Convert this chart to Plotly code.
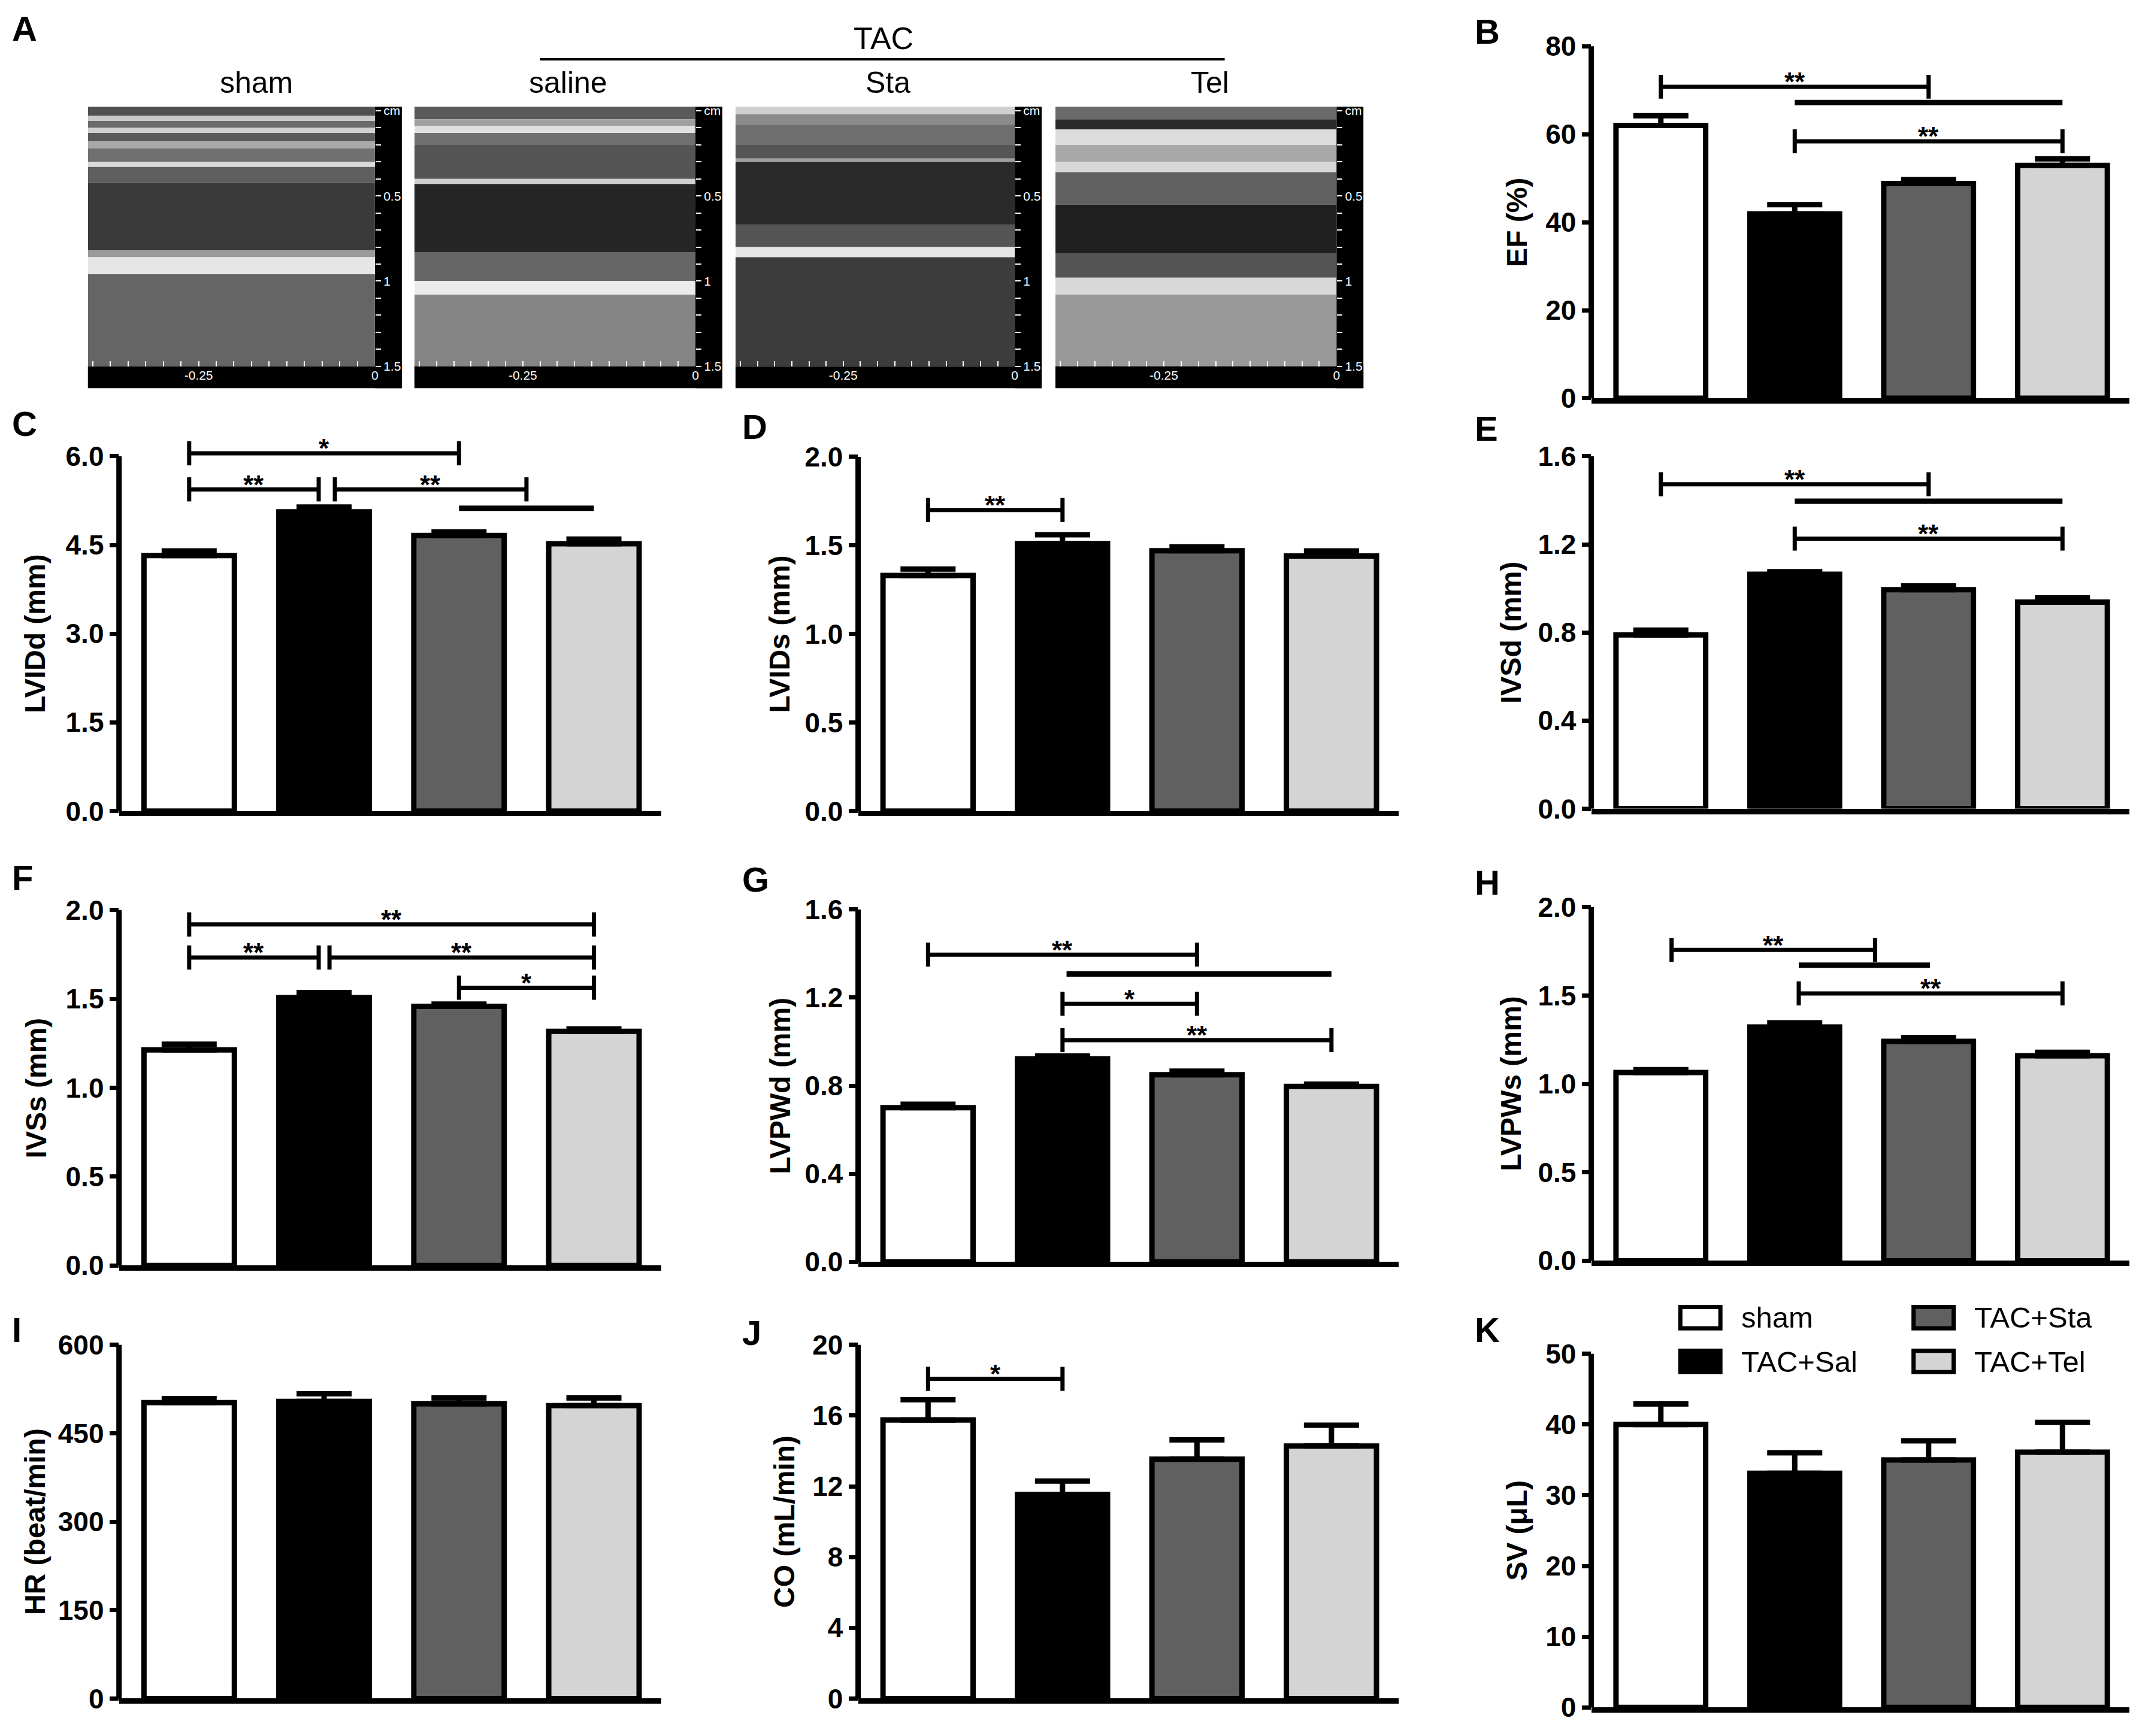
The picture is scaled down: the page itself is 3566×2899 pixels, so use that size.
import plotly.graph_objects as go

W, H = 3566, 2899
FONT = 'Liberation Sans, Arial, Helvetica, sans-serif'

groups = ['sham', 'TAC+Sal', 'TAC+Sta', 'TAC+Tel']
bar_colors = ['#ffffff', '#000000', '#606060', '#d4d4d4']

# mean and SEM per group
ef_mean = [62.0, 41.9, 48.8, 52.9]
ef_sem = [2.2, 2.1, 0.9, 1.5]
lvidd_mean = [4.32, 5.06, 4.66, 4.52]
lvidd_sem = [0.08, 0.08, 0.06, 0.08]
lvids_mean = [1.33, 1.51, 1.47, 1.44]
lvids_sem = [0.037, 0.05, 0.022, 0.029]
ivsd_mean = [0.789, 1.064, 0.994, 0.938]
ivsd_sem = [0.022, 0.012, 0.017, 0.019]
ivss_mean = [1.213, 1.507, 1.458, 1.318]
ivss_sem = [0.032, 0.029, 0.013, 0.013]
lvpwd_mean = [0.700, 0.922, 0.850, 0.797]
lvpwd_sem = [0.016, 0.013, 0.016, 0.010]
lvpws_mean = [1.065, 1.322, 1.241, 1.159]
lvpws_sem = [0.016, 0.024, 0.022, 0.020]
hr_mean = [502, 504, 500, 497]
hr_sem = [7, 13, 10, 13]
co_mean = [15.75, 11.55, 13.54, 14.28]
co_sem = [1.15, 0.75, 1.09, 1.18]
sv_mean = [40.0, 33.1, 35.0, 36.1]
sv_sem = [2.9, 2.9, 2.7, 4.2]

# y tick values
ef_ticks = [0, 20, 40, 60, 80]
lvidd_ticks = [0, 1.5, 3.0, 4.5, 6.0]
lvids_ticks = [0, 0.5, 1.0, 1.5, 2.0]
ivsd_ticks = [0, 0.4, 0.8, 1.2, 1.6]
ivss_ticks = [0, 0.5, 1.0, 1.5, 2.0]
lvpwd_ticks = [0, 0.4, 0.8, 1.2, 1.6]
lvpws_ticks = [0, 0.5, 1.0, 1.5, 2.0]
hr_ticks = [0, 150, 300, 450, 600]
co_ticks = [0, 4, 8, 12, 16, 20]
sv_ticks = [0, 10, 20, 30, 40, 50]

# significance brackets: (from group, to group, height, label); '' = plain group line
ef_sig = [(0, 2, 70.8, '**'), (1, 3, 67.2, ''), (1, 3, 58.4, '**')]
lvidd_sig = [(0, 2, 6.05, '*'), (0, 0.96, 5.44, '**'), (1.08, 2.5, 5.44, '**'), (2, 3, 5.12, '')]
lvids_sig = [(0, 1, 1.70, '**')]
ivsd_sig = [(0, 2, 1.473, '**'), (1, 3, 1.396, ''), (1, 3, 1.226, '**')]
ivss_sig = [(0, 3, 1.919, '**'), (0, 0.96, 1.733, '**'), (1.04, 3, 1.733, '**'), (2, 3, 1.563, '*')]
lvpwd_sig = [(0, 2, 1.395, '**'), (1.03, 3, 1.307, ''), (1, 2, 1.172, '*'), (1, 3, 1.007, '**')]
lvpws_sig = [(0.08, 1.6, 1.758, '**'), (1.03, 2.01, 1.672, ''), (1.03, 3, 1.512, '**')]
co_sig = [(0, 1, 18.08, '*')]

# echo M-mode panels: grey bands by depth (cm)
echo_names = ['sham', 'saline', 'Sta', 'Tel']
echo_bands = [
    [(-0.03, 0.03, '#505050'), (0.03, 0.06, '#c8c8c8'), (0.06, 0.10, '#6a6a6a'), (0.10, 0.13, '#d0d0d0'),
     (0.13, 0.18, '#5a5a5a'), (0.18, 0.22, '#a8a8a8'), (0.22, 0.30, '#707070'), (0.30, 0.33, '#dadada'),
     (0.33, 0.42, '#5e5e5e'), (0.42, 0.82, '#3a3a3a'), (0.82, 0.86, '#9a9a9a'), (0.86, 0.96, '#e6e6e6'),
     (0.96, 1.5, '#656565')],
    [(-0.03, 0.05, '#5a5a5a'), (0.05, 0.09, '#a0a0a0'), (0.09, 0.13, '#e0e0e0'), (0.13, 0.20, '#707070'),
     (0.20, 0.40, '#555555'), (0.40, 0.43, '#d0d0d0'), (0.43, 0.83, '#262626'), (0.83, 1.00, '#666666'),
     (1.00, 1.08, '#ebebeb'), (1.08, 1.5, '#858585')],
    [(-0.03, 0.02, '#cfcfcf'), (0.02, 0.08, '#8a8a8a'), (0.08, 0.20, '#6e6e6e'), (0.20, 0.28, '#555555'),
     (0.28, 0.30, '#a0a0a0'), (0.30, 0.67, '#2a2a2a'), (0.67, 0.80, '#555555'), (0.80, 0.86, '#e6e6e6'),
     (0.86, 1.5, '#3c3c3c')],
    [(-0.03, 0.05, '#6a6a6a'), (0.05, 0.11, '#2a2a2a'), (0.11, 0.20, '#dcdcdc'), (0.20, 0.30, '#a8a8a8'),
     (0.30, 0.36, '#d8d8d8'), (0.36, 0.55, '#606060'), (0.55, 0.84, '#202020'), (0.84, 0.98, '#555555'),
     (0.98, 1.08, '#d8d8d8'), (1.08, 1.5, '#999999')],
]
ruler_ticks = [0.0, 0.1, 0.2, 0.3, 0.4, 0.5, 0.6, 0.7, 0.8, 0.9, 1.0, 1.1, 1.2, 1.3, 1.4, 1.5]
ruler_text = ['cm', '', '', '', '', '0.5', '', '', '', '', '1', '', '', '', '', '1.5']
time_ticks = [-0.4, -0.375, -0.35, -0.325, -0.3, -0.275, -0.25, -0.225, -0.2, -0.175,
              -0.15, -0.125, -0.1, -0.075, -0.05, -0.025, 0.0]
time_text = ['' if t not in (-0.25, 0.0) else ('-0.25' if t else '0') for t in time_ticks]


def fx(px):
    return px / W


def fy(py):
    return 1 - py / H


def ax_ids(n):
    s = '' if n == 1 else str(n)
    return f'x{s}', f'y{s}', f'xaxis{s}', f'yaxis{s}'


# layout of bar panels in pixels: x of y-axis / end of x-axis, y of zero / top tick
panels = [
    dict(letter='B', title='EF (%)', mean=ef_mean, sem=ef_sem, ticks=ef_ticks, fmt='d', sig=ef_sig,
         xpx=(2653, 3553), ypx=(659, 65), lpos=(2456, 40), tx=2528),
    dict(letter='C', title='LVIDd (mm)', mean=lvidd_mean, sem=lvidd_sem, ticks=lvidd_ticks, fmt='.1f', sig=lvidd_sig,
         xpx=(191, 1098), ypx=(1356, 757), lpos=(10, 702), tx=50),
    dict(letter='D', title='LVIDs (mm)', mean=lvids_mean, sem=lvids_sem, ticks=lvids_ticks, fmt='.1f', sig=lvids_sig,
         xpx=(1427, 2331), ypx=(1356, 758), lpos=(1231, 707), tx=1296),
    dict(letter='E', title='IVSd (mm)', mean=ivsd_mean, sem=ivsd_sem, ticks=ivsd_ticks, fmt='.1f', sig=ivsd_sig,
         xpx=(2653, 3553), ypx=(1352, 757), lpos=(2456, 710), tx=2518),
    dict(letter='F', title='IVSs (mm)', mean=ivss_mean, sem=ivss_sem, ticks=ivss_ticks, fmt='.1f', sig=ivss_sig,
         xpx=(191, 1098), ypx=(2123, 1523), lpos=(10, 1468), tx=53),
    dict(letter='G', title='LVPWd (mm)', mean=lvpwd_mean, sem=lvpwd_sem, ticks=lvpwd_ticks, fmt='.1f', sig=lvpwd_sig,
         xpx=(1427, 2331), ypx=(2117, 1522), lpos=(1231, 1471), tx=1296),
    dict(letter='H', title='LVPWs (mm)', mean=lvpws_mean, sem=lvpws_sem, ticks=lvpws_ticks, fmt='.1f', sig=lvpws_sig,
         xpx=(2653, 3553), ypx=(2115, 1518), lpos=(2456, 1476), tx=2518),
    dict(letter='I', title='HR (beat/min)', mean=hr_mean, sem=hr_sem, ticks=hr_ticks, fmt='d', sig=[],
         xpx=(191, 1098), ypx=(2854, 2257), lpos=(10, 2231), tx=50),
    dict(letter='J', title='CO (mL/min)', mean=co_mean, sem=co_sem, ticks=co_ticks, fmt='d', sig=co_sig,
         xpx=(1427, 2331), ypx=(2854, 2257), lpos=(1231, 2236), tx=1303),
    dict(letter='K', title='SV (\u03bcL)', mean=sv_mean, sem=sv_sem, ticks=sv_ticks, fmt='d', sig=[],
         xpx=(2653, 3553), ypx=(2869, 2272), lpos=(2456, 2231), tx=2528),
]

EXT = 1.06
LW = 9
fig = go.Figure()
layout = {}
shapes = []
annotations = []


def letter(text, x, y):
    annotations.append(dict(xref='paper', yref='paper', x=fx(x), y=fy(y), text=text, showarrow=False,
                            xanchor='left', yanchor='middle',
                            font=dict(size=58, family=FONT, color='black', weight='bold')))


for n, p in enumerate(panels, start=1):
    xa, ya, xkey, ykey = ax_ids(n)
    ymax = p['ticks'][-1]
    y0px, ytpx = p['ypx']
    top_px = y0px - (y0px - ytpx) * EXT
    fig.add_trace(go.Bar(
        x=[0, 1, 2, 3], y=p['mean'], width=0.67, xaxis=xa, yaxis=ya, showlegend=False,
        marker=dict(color=bar_colors, line=dict(color='black', width=LW)),
        error_y=dict(type='data', symmetric=False, array=p['sem'], arrayminus=[0, 0, 0, 0],
                     color='black', thickness=LW, width=46),
    ))
    layout[xkey] = dict(domain=[fx(p['xpx'][0]), fx(p['xpx'][1])], range=[-0.52, 3.5], anchor=ya,
                        showline=True, linewidth=LW, linecolor='black', ticks='', showticklabels=False,
                        showgrid=False, zeroline=False, fixedrange=True)
    layout[ykey] = dict(domain=[fy(y0px), fy(top_px)], range=[0, ymax * EXT], anchor=xa,
                        tickvals=p['ticks'], tickformat=p['fmt'], ticks='outside', ticklen=15,
                        tickwidth=7, tickcolor='black', showline=False, showgrid=False, zeroline=False,
                        tickfont=dict(size=46, family=FONT, color='black', weight='bold'), fixedrange=True)
    # y spine only up to the top tick
    shapes.append(dict(type='line', xref=f'{xa} domain', yref=ya, x0=0, x1=0, y0=-0.008 * ymax, y1=ymax,
                       line=dict(color='black', width=LW)))
    cap = 0.034 * ymax
    for s0, s1, yv, lab in p['sig']:
        shapes.append(dict(type='line', xref=xa, yref=ya, x0=s0, x1=s1, y0=yv, y1=yv,
                           line=dict(color='black', width=7 if lab else 9)))
        if lab:
            for xe in (s0, s1):
                shapes.append(dict(type='line', xref=xa, yref=ya, x0=xe, x1=xe, y0=yv - cap, y1=yv + cap,
                                   line=dict(color='black', width=7)))
            annotations.append(dict(xref=xa, yref=ya, x=(s0 + s1) / 2, y=yv, text=lab, showarrow=False,
                                    yanchor='middle', yshift=8,
                                    font=dict(size=44, family=FONT, color='black', weight='bold')))
    annotations.append(dict(xref='paper', yref='paper', x=fx(p['tx']), y=fy((y0px + ytpx) / 2), text=p['title'],
                            showarrow=False, textangle=-90, xanchor='center', yanchor='middle',
                            font=dict(size=48, family=FONT, color='black', weight='bold')))
    letter(p['letter'], *p['lpos'])

# panel A: M-mode echo strips
echo_px = [(139, 664), (685, 1200), (1222, 1734), (1757, 2272)]
label_x = [421, 942, 1477, 2015]
RULER = 45
IMG_TOP, IMG_D15, IMG_BOT = 167, 605, 642
for k, (name, (l, r)) in enumerate(zip(echo_names, echo_px)):
    n = len(panels) + 1 + k
    xa, ya, xkey, ykey = ax_ids(n)
    img_w = r - RULER - l
    img_h = IMG_D15 - IMG_TOP
    fig.add_trace(go.Scatter(x=[None], y=[None], xaxis=xa, yaxis=ya, showlegend=False, hoverinfo='skip'))
    layout[xkey] = dict(domain=[fx(l), fx(r - RULER)], range=[-0.407, 0], anchor=ya,
                        tickvals=time_ticks, ticktext=time_text, ticks='inside', ticklen=9, tickwidth=2,
                        tickcolor='white', showline=False, showgrid=False, zeroline=False,
                        tickfont=dict(size=21, family=FONT, color='white'), fixedrange=True)
    layout[ykey] = dict(domain=[fy(IMG_D15), fy(IMG_TOP)], range=[1.5, -0.024], anchor=xa, side='right',
                        tickvals=ruler_ticks, ticktext=ruler_text, ticks='outside', ticklen=9, tickwidth=2,
                        tickcolor='white', showline=False, showgrid=False, zeroline=False,
                        tickfont=dict(size=21, family=FONT, color='white'), fixedrange=True)
    for d0, d1, col in echo_bands[k]:
        shapes.append(dict(type='rect', xref=xa, yref=ya, x0=-0.407, x1=0, y0=d0, y1=d1,
                           fillcolor=col, line=dict(width=0), layer='below'))
    bot = -(IMG_BOT - IMG_D15) / img_h
    shapes.append(dict(type='rect', xref=f'{xa} domain', yref=f'{ya} domain', x0=0, x1=1 + RULER / img_w,
                       y0=bot, y1=0, fillcolor='black', line=dict(width=0), layer='below'))
    shapes.append(dict(type='rect', xref=f'{xa} domain', yref=f'{ya} domain', x0=1, x1=1 + RULER / img_w,
                       y0=bot, y1=1, fillcolor='black', line=dict(width=0), layer='below'))
    annotations.append(dict(xref='paper', yref='paper', x=fx(label_x[k]), y=fy(126), text=name, showarrow=False,
                            xanchor='center', yanchor='middle', font=dict(size=50, family=FONT, color='black')))

annotations.append(dict(xref='paper', yref='paper', x=fx(1469), y=fy(52), text='TAC', showarrow=False,
                        xanchor='center', yanchor='middle', font=dict(size=52, family=FONT, color='black')))
shapes.append(dict(type='line', xref='paper', yref='paper', x0=fx(895), x1=fx(2040), y0=fy(87), y1=fy(87),
                   line=dict(color='black', width=4)))
letter('A', 10, 35)

# legend of panel K (2 x 2)
legend_pos = [(2802, 2211), (2802, 2285), (3192, 2211), (3192, 2285)]
for g, col, (lx, ly) in zip(groups, bar_colors, legend_pos):
    shapes.append(dict(type='rect', xref='paper', yref='paper', x0=fx(lx), x1=fx(lx + 67),
                       y0=fy(ly + 18), y1=fy(ly - 18), fillcolor=col, line=dict(color='black', width=7)))
    annotations.append(dict(xref='paper', yref='paper', x=fx(lx + 100), y=fy(ly), text=g, showarrow=False,
                            xanchor='left', yanchor='middle', font=dict(size=49, family=FONT, color='black')))

fig.update_layout(width=W, height=H, margin=dict(l=0, r=0, t=0, b=0), paper_bgcolor='white',
                  plot_bgcolor='white', shapes=shapes, annotations=annotations, showlegend=False, **layout)

fig.write_html("out.html")
